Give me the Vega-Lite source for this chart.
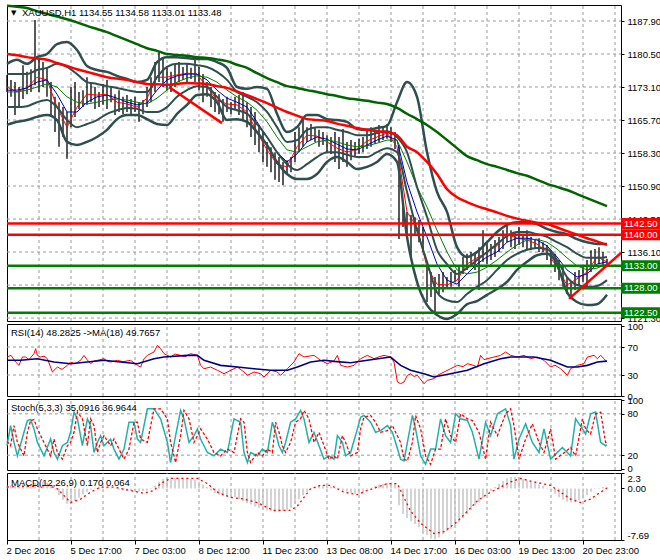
{
"$schema":"https://vega.github.io/schema/vega-lite/v6.json",
"background":"white",
"padding":{"left":1,"top":0,"right":0,"bottom":0},
"spacing":3,
"bounds":"flush",
"config":{"view":{"stroke":"#000","strokeWidth":1},
"axis":{"labelFont":"Liberation Sans","labelFontSize":9.5,"labelColor":"#000","tickColor":"#000","tickSize":3,"domain":false,"labelPadding":3,"labelOverlap":false,"labelBound":false,"grid":false},
"text":{"font":"Liberation Sans","fontSize":9.5}},
"datasets":{
"gx":[{"i":16},{"i":32},{"i":48},{"i":64},{"i":80},{"i":96},{"i":112},{"i":128},{"i":144},{"i":160},{"i":176},{"i":192},{"i":208},{"i":224},{"i":240},{"i":256},{"i":272},{"i":288},{"i":304}],
"gym":[{"v":1187.9},{"v":1180.5},{"v":1173.1},{"v":1165.7},{"v":1158.3},{"v":1150.9},{"v":1143.5},{"v":1136.1},{"v":1128.7},{"v":1121.3}],
"gyr":[{"v":70},{"v":30}],
"gys":[{"v":80},{"v":20}],
"px":[{"i":0,"h":1175.8,"l":1172.0,"m":0.4},{"i":2,"h":1174.7,"l":1170.9,"m":0.5},{"i":4,"h":1174.2,"l":1166.8,"m":0.4},{"i":6,"h":1173.1,"l":1168.6,"m":0.6},{"i":8,"h":1178.0,"l":1170.4,"m":0.7},{"i":10,"h":1176.5,"l":1171.5,"m":0.6},{"i":12,"h":1177.1,"l":1172.0,"m":0.7},{"i":14,"h":1188.1,"l":1173.5,"m":0.9},{"i":16,"h":1179.4,"l":1172.0,"m":0.9},{"i":18,"h":1178.7,"l":1173.1,"m":1.0},{"i":20,"h":1177.6,"l":1170.9,"m":0.9},{"i":22,"h":1174.2,"l":1166.4,"m":0.6},{"i":24,"h":1170.9,"l":1163.0,"m":-0.2},{"i":26,"h":1169.7,"l":1159.7,"m":-1.0},{"i":28,"h":1168.6,"l":1161.9,"m":-1.7},{"i":30,"h":1167.5,"l":1157.0,"m":-2.3},{"i":32,"h":1173.1,"l":1164.1,"m":-2.2},{"i":34,"h":1174.2,"l":1166.4,"m":-1.9},{"i":36,"h":1172.0,"l":1168.2,"m":-1.4},{"i":38,"h":1172.4,"l":1168.6,"m":-0.9},{"i":40,"h":1175.3,"l":1169.1,"m":-0.5},{"i":42,"h":1174.2,"l":1169.7,"m":-0.2},{"i":44,"h":1173.1,"l":1168.2,"m":0.1},{"i":46,"h":1172.0,"l":1168.6,"m":0.3},{"i":48,"h":1173.8,"l":1169.1,"m":0.3},{"i":50,"h":1174.7,"l":1168.2,"m":0.2},{"i":52,"h":1173.1,"l":1169.7,"m":0.1},{"i":54,"h":1171.5,"l":1166.8,"m":-0.1},{"i":56,"h":1172.4,"l":1167.5,"m":-0.2},{"i":58,"h":1170.9,"l":1167.0,"m":-0.3},{"i":60,"h":1171.3,"l":1167.5,"m":-0.4},{"i":62,"h":1170.4,"l":1166.8,"m":-0.4},{"i":64,"h":1170.9,"l":1167.5,"m":-0.5},{"i":66,"h":1169.7,"l":1165.3,"m":-0.5},{"i":68,"h":1170.2,"l":1167.0,"m":-0.4},{"i":70,"h":1173.1,"l":1168.6,"m":-0.3},{"i":72,"h":1175.3,"l":1169.7,"m":-0.1},{"i":74,"h":1178.7,"l":1172.0,"m":0.4},{"i":76,"h":1180.9,"l":1174.2,"m":1.0},{"i":78,"h":1179.8,"l":1173.1,"m":1.4},{"i":80,"h":1177.6,"l":1172.4,"m":1.6},{"i":82,"h":1176.5,"l":1172.0,"m":1.7},{"i":84,"h":1178.3,"l":1173.1,"m":1.6},{"i":86,"h":1178.7,"l":1174.2,"m":1.6},{"i":88,"h":1177.6,"l":1174.7,"m":1.5},{"i":90,"h":1178.3,"l":1174.2,"m":1.5},{"i":92,"h":1177.4,"l":1174.9,"m":1.4},{"i":94,"h":1179.2,"l":1174.2,"m":1.3},{"i":96,"h":1177.6,"l":1172.4,"m":1.0},{"i":98,"h":1176.0,"l":1169.7,"m":0.6},{"i":100,"h":1174.2,"l":1170.9,"m":0.2},{"i":102,"h":1173.1,"l":1168.6,"m":-0.3},{"i":104,"h":1172.0,"l":1167.5,"m":-0.7},{"i":106,"h":1171.5,"l":1167.0,"m":-0.9},{"i":108,"h":1170.4,"l":1165.3,"m":-1.1},{"i":110,"h":1170.9,"l":1167.5,"m":-1.2},{"i":112,"h":1169.7,"l":1167.0,"m":-1.2},{"i":114,"h":1170.9,"l":1167.9,"m":-1.3},{"i":116,"h":1171.3,"l":1166.8,"m":-1.6},{"i":118,"h":1172.0,"l":1165.7,"m":-1.9},{"i":120,"h":1169.7,"l":1164.1,"m":-2.2},{"i":122,"h":1168.6,"l":1161.9,"m":-2.4},{"i":124,"h":1167.5,"l":1160.1,"m":-2.7},{"i":126,"h":1164.1,"l":1158.5,"m":-2.9},{"i":128,"h":1163.0,"l":1156.3,"m":-3.1},{"i":130,"h":1160.8,"l":1155.2,"m":-3.3},{"i":132,"h":1159.6,"l":1154.0,"m":-3.4},{"i":134,"h":1158.5,"l":1152.3,"m":-3.5},{"i":136,"h":1157.4,"l":1151.8,"m":-3.5},{"i":138,"h":1156.3,"l":1151.1,"m":-3.4},{"i":140,"h":1156.7,"l":1153.6,"m":-3.3},{"i":142,"h":1157.4,"l":1154.0,"m":-2.9},{"i":144,"h":1163.0,"l":1156.3,"m":-2.3},{"i":146,"h":1164.1,"l":1158.5,"m":-1.6},{"i":148,"h":1165.9,"l":1159.7,"m":-1.0},{"i":150,"h":1164.1,"l":1160.8,"m":-0.5},{"i":152,"h":1164.8,"l":1161.2,"m":-0.1},{"i":154,"h":1164.1,"l":1160.8,"m":0.2},{"i":156,"h":1163.5,"l":1159.7,"m":0.4},{"i":158,"h":1163.0,"l":1160.1,"m":0.5},{"i":160,"h":1162.3,"l":1158.5,"m":0.4},{"i":162,"h":1161.9,"l":1158.1,"m":0.3},{"i":164,"h":1163.0,"l":1156.3,"m":0.1},{"i":166,"h":1161.9,"l":1154.7,"m":-0.1},{"i":168,"h":1163.7,"l":1156.3,"m":-0.3},{"i":170,"h":1160.8,"l":1155.2,"m":-0.5},{"i":172,"h":1161.2,"l":1156.7,"m":-0.7},{"i":174,"h":1160.8,"l":1157.4,"m":-0.8},{"i":176,"h":1161.5,"l":1158.1,"m":-0.8},{"i":178,"h":1161.9,"l":1158.5,"m":-0.6},{"i":180,"h":1163.5,"l":1159.2,"m":-0.3},{"i":182,"h":1164.1,"l":1159.7,"m":0.1},{"i":184,"h":1163.0,"l":1160.3,"m":0.4},{"i":186,"h":1164.6,"l":1160.8,"m":0.6},{"i":188,"h":1164.1,"l":1161.2,"m":0.7},{"i":190,"h":1164.8,"l":1161.5,"m":0.8},{"i":192,"h":1164.1,"l":1160.8,"m":0.9},{"i":194,"h":1163.0,"l":1159.2,"m":0.8},{"i":196,"h":1160.1,"l":1139.0,"m":-2.5},{"i":198,"h":1146.2,"l":1141.7,"m":-3.8},{"i":200,"h":1145.1,"l":1139.5,"m":-4.4},{"i":202,"h":1144.4,"l":1134.5,"m":-4.9},{"i":204,"h":1143.9,"l":1140.1,"m":-5.3},{"i":206,"h":1143.3,"l":1138.3,"m":-5.8},{"i":208,"h":1141.7,"l":1136.1,"m":-6.4},{"i":210,"h":1133.2,"l":1124.9,"m":-7.0},{"i":212,"h":1131.6,"l":1126.0,"m":-7.5},{"i":214,"h":1130.5,"l":1122.6,"m":-7.6},{"i":216,"h":1131.2,"l":1126.7,"m":-7.3},{"i":218,"h":1131.6,"l":1127.1,"m":-6.8},{"i":220,"h":1130.5,"l":1127.8,"m":-6.4},{"i":222,"h":1131.6,"l":1128.3,"m":-6.0},{"i":224,"h":1132.1,"l":1129.4,"m":-5.5},{"i":226,"h":1132.8,"l":1128.3,"m":-5.0},{"i":228,"h":1135.0,"l":1131.2,"m":-4.4},{"i":230,"h":1135.7,"l":1132.1,"m":-3.8},{"i":232,"h":1136.1,"l":1132.8,"m":-3.2},{"i":234,"h":1136.1,"l":1132.1,"m":-2.6},{"i":236,"h":1137.2,"l":1127.6,"m":-2.1},{"i":238,"h":1141.0,"l":1133.9,"m":-1.5},{"i":240,"h":1138.3,"l":1133.4,"m":-0.9},{"i":242,"h":1137.9,"l":1134.3,"m":-0.4},{"i":244,"h":1138.8,"l":1135.0,"m":0.2},{"i":246,"h":1139.5,"l":1136.1,"m":0.7},{"i":248,"h":1141.0,"l":1136.8,"m":1.1},{"i":250,"h":1142.4,"l":1138.3,"m":1.5},{"i":252,"h":1141.0,"l":1137.2,"m":1.7},{"i":254,"h":1140.6,"l":1136.8,"m":1.7},{"i":256,"h":1141.7,"l":1137.7,"m":1.6},{"i":258,"h":1140.1,"l":1137.2,"m":1.4},{"i":260,"h":1141.0,"l":1136.5,"m":1.2},{"i":262,"h":1139.5,"l":1136.5,"m":1.0},{"i":264,"h":1139.0,"l":1136.8,"m":0.8},{"i":266,"h":1139.2,"l":1136.1,"m":0.6},{"i":268,"h":1138.3,"l":1136.1,"m":0.4},{"i":270,"h":1137.7,"l":1134.3,"m":0.1},{"i":272,"h":1136.5,"l":1132.8,"m":-0.3},{"i":274,"h":1135.7,"l":1131.6,"m":-0.8},{"i":276,"h":1134.3,"l":1129.8,"m":-1.3},{"i":278,"h":1132.8,"l":1128.3,"m":-1.7},{"i":280,"h":1130.5,"l":1126.7,"m":-2.0},{"i":282,"h":1129.4,"l":1125.6,"m":-2.1},{"i":284,"h":1131.6,"l":1127.6,"m":-2.0},{"i":286,"h":1132.1,"l":1128.7,"m":-1.8},{"i":288,"h":1132.8,"l":1129.4,"m":-1.5},{"i":290,"h":1134.3,"l":1127.8,"m":-1.0},{"i":292,"h":1136.5,"l":1131.6,"m":-0.5},{"i":294,"h":1136.8,"l":1132.8,"m":-0.1},{"i":296,"h":1137.2,"l":1133.4,"m":0.1},{"i":298,"h":1136.1,"l":1133.2,"m":0.2},{"i":300,"h":1134.58,"l":1133.01,"m":0.17}],
"ind":[{"i":0,"f":1173.1,"b":1172.4,"g":1172.0,"u":1178.3,"l":1164.6,"iu":1176.0,"il":1168.6,"m50":1180.5,"m200":1191.3},{"i":5,"f":1172.0,"b":1172.4,"g":1172.0,"u":1179.2,"l":1165.3,"iu":1176.0,"il":1168.6,"m50":1180.2,"m200":1191.1},{"i":10,"f":1172.9,"b":1172.9,"g":1172.4,"u":1178.3,"l":1165.7,"iu":1176.0,"il":1168.8,"m50":1179.8,"m200":1190.8},{"i":15,"f":1175.3,"b":1174.2,"g":1173.1,"u":1179.8,"l":1166.4,"iu":1176.9,"il":1169.7,"m50":1179.5,"m200":1190.1},{"i":20,"f":1174.7,"b":1174.7,"g":1173.8,"u":1180.5,"l":1166.8,"iu":1177.4,"il":1170.2,"m50":1179.2,"m200":1189.5},{"i":25,"f":1168.6,"b":1171.5,"g":1173.1,"u":1182.7,"l":1165.7,"iu":1178.3,"il":1168.6,"m50":1178.5,"m200":1188.9},{"i":30,"f":1164.1,"b":1167.5,"g":1170.9,"u":1183.2,"l":1160.8,"iu":1177.6,"il":1165.7,"m50":1177.8,"m200":1188.3},{"i":35,"f":1168.6,"b":1167.5,"g":1169.7,"u":1181.4,"l":1160.1,"iu":1176.0,"il":1164.1,"m50":1177.1,"m200":1187.6},{"i":40,"f":1171.5,"b":1169.7,"g":1169.3,"u":1177.8,"l":1160.8,"iu":1174.2,"il":1164.8,"m50":1176.5,"m200":1186.8},{"i":45,"f":1171.3,"b":1170.9,"g":1169.7,"u":1176.9,"l":1161.9,"iu":1173.8,"il":1165.7,"m50":1175.9,"m200":1186.1},{"i":50,"f":1171.5,"b":1171.3,"g":1170.2,"u":1176.5,"l":1163.5,"iu":1173.3,"il":1167.1,"m50":1175.3,"m200":1185.4},{"i":55,"f":1169.7,"b":1170.6,"g":1170.4,"u":1175.6,"l":1165.9,"iu":1172.9,"il":1167.9,"m50":1175.0,"m200":1184.5},{"i":60,"f":1169.3,"b":1169.7,"g":1170.2,"u":1174.9,"l":1166.8,"iu":1172.4,"il":1168.4,"m50":1174.7,"m200":1183.6},{"i":65,"f":1168.6,"b":1169.1,"g":1169.7,"u":1174.2,"l":1166.8,"iu":1172.0,"il":1168.2,"m50":1174.2,"m200":1182.7},{"i":70,"f":1170.6,"b":1169.5,"g":1169.3,"u":1174.7,"l":1165.9,"iu":1172.0,"il":1167.5,"m50":1173.8,"m200":1181.8},{"i":75,"f":1175.3,"b":1172.4,"g":1170.6,"u":1178.7,"l":1164.8,"iu":1175.3,"il":1167.5,"m50":1173.7,"m200":1181.2},{"i":80,"f":1175.3,"b":1174.7,"g":1172.4,"u":1179.8,"l":1164.6,"iu":1177.6,"il":1168.6,"m50":1173.6,"m200":1180.5},{"i":85,"f":1175.8,"b":1175.6,"g":1174.2,"u":1179.8,"l":1167.1,"iu":1178.3,"il":1170.9,"m50":1173.8,"m200":1180.3},{"i":90,"f":1176.2,"b":1176.0,"g":1175.1,"u":1179.6,"l":1169.1,"iu":1178.3,"il":1172.4,"m50":1174.0,"m200":1180.1},{"i":95,"f":1176.0,"b":1176.0,"g":1175.6,"u":1179.4,"l":1171.3,"iu":1178.0,"il":1173.3,"m50":1173.9,"m200":1179.8},{"i":100,"f":1173.1,"b":1174.7,"g":1175.3,"u":1179.4,"l":1171.5,"iu":1177.6,"il":1173.1,"m50":1173.8,"m200":1179.6},{"i":105,"f":1170.2,"b":1172.4,"g":1174.2,"u":1178.7,"l":1169.7,"iu":1176.5,"il":1170.9,"m50":1173.3,"m200":1179.3},{"i":110,"f":1169.3,"b":1170.6,"g":1172.4,"u":1177.4,"l":1165.7,"iu":1174.7,"il":1168.6,"m50":1172.9,"m200":1178.9},{"i":115,"f":1169.1,"b":1169.7,"g":1170.9,"u":1173.1,"l":1165.9,"iu":1172.0,"il":1167.9,"m50":1172.1,"m200":1178.1},{"i":120,"f":1167.5,"b":1168.6,"g":1169.7,"u":1172.7,"l":1165.3,"iu":1170.9,"il":1167.1,"m50":1171.3,"m200":1177.4},{"i":125,"f":1163.0,"b":1165.3,"g":1167.9,"u":1173.1,"l":1163.0,"iu":1169.7,"il":1164.8,"m50":1170.4,"m200":1176.2},{"i":130,"f":1159.0,"b":1161.9,"g":1165.3,"u":1172.7,"l":1160.1,"iu":1167.5,"il":1161.9,"m50":1169.5,"m200":1175.1},{"i":135,"f":1155.8,"b":1158.5,"g":1161.9,"u":1167.1,"l":1156.3,"iu":1164.1,"il":1158.5,"m50":1168.5,"m200":1174.2},{"i":140,"f":1155.2,"b":1156.3,"g":1159.0,"u":1163.0,"l":1153.6,"iu":1160.8,"il":1155.8,"m50":1167.5,"m200":1173.3},{"i":145,"f":1159.7,"b":1158.1,"g":1158.5,"u":1164.1,"l":1152.5,"iu":1161.2,"il":1154.5,"m50":1166.7,"m200":1172.9},{"i":150,"f":1162.3,"b":1160.8,"g":1159.7,"u":1166.8,"l":1152.5,"iu":1163.5,"il":1155.8,"m50":1165.9,"m200":1172.4},{"i":155,"f":1162.1,"b":1161.9,"g":1160.8,"u":1166.8,"l":1153.6,"iu":1164.1,"il":1157.4,"m50":1165.7,"m200":1172.0},{"i":160,"f":1160.8,"b":1161.4,"g":1161.2,"u":1165.9,"l":1156.3,"iu":1164.1,"il":1158.5,"m50":1165.5,"m200":1171.5},{"i":165,"f":1159.4,"b":1160.3,"g":1160.8,"u":1165.7,"l":1157.4,"iu":1163.5,"il":1158.5,"m50":1164.9,"m200":1171.1},{"i":170,"f":1158.5,"b":1159.2,"g":1160.1,"u":1165.3,"l":1156.3,"iu":1163.0,"il":1157.9,"m50":1164.4,"m200":1170.6},{"i":175,"f":1159.2,"b":1159.0,"g":1159.7,"u":1163.7,"l":1154.7,"iu":1162.3,"il":1157.4,"m50":1163.9,"m200":1170.3},{"i":180,"f":1161.0,"b":1160.1,"g":1159.9,"u":1163.5,"l":1155.2,"iu":1162.3,"il":1157.4,"m50":1163.5,"m200":1170.0},{"i":185,"f":1161.9,"b":1161.2,"g":1160.5,"u":1163.9,"l":1156.3,"iu":1162.8,"il":1158.5,"m50":1163.2,"m200":1169.6},{"i":190,"f":1162.8,"b":1162.1,"g":1161.2,"u":1164.4,"l":1158.1,"iu":1163.2,"il":1159.4,"m50":1163.0,"m200":1169.3},{"i":195,"f":1159.7,"b":1161.2,"g":1161.2,"u":1169.7,"l":1156.3,"iu":1161.9,"il":1158.5,"m50":1162.3,"m200":1168.4},{"i":200,"f":1145.1,"b":1151.8,"g":1156.3,"u":1174.2,"l":1139.5,"iu":1158.5,"il":1149.6,"m50":1159.7,"m200":1167.1},{"i":205,"f":1141.7,"b":1145.1,"g":1150.7,"u":1170.9,"l":1129.4,"iu":1150.7,"il":1141.0,"m50":1158.5,"m200":1165.9},{"i":210,"f":1132.7,"b":1139.5,"g":1146.2,"u":1158.5,"l":1124.2,"iu":1144.0,"il":1133.9,"m50":1156.3,"m200":1164.6},{"i":215,"f":1128.9,"b":1133.4,"g":1141.0,"u":1149.6,"l":1122.0,"iu":1136.6,"il":1127.1,"m50":1153.6,"m200":1163.0},{"i":220,"f":1128.7,"b":1129.8,"g":1136.1,"u":1145.1,"l":1121.1,"iu":1133.4,"il":1125.3,"m50":1150.2,"m200":1161.2},{"i":225,"f":1129.8,"b":1128.9,"g":1132.1,"u":1137.2,"l":1122.2,"iu":1131.2,"il":1124.9,"m50":1148.4,"m200":1159.4},{"i":230,"f":1133.4,"b":1131.2,"g":1131.2,"u":1135.0,"l":1124.4,"iu":1132.5,"il":1126.7,"m50":1147.3,"m200":1157.6},{"i":235,"f":1134.8,"b":1133.4,"g":1131.6,"u":1136.1,"l":1125.1,"iu":1134.3,"il":1128.3,"m50":1146.4,"m200":1156.7},{"i":240,"f":1136.1,"b":1135.0,"g":1132.7,"u":1138.3,"l":1126.5,"iu":1136.1,"il":1129.8,"m50":1145.7,"m200":1155.8},{"i":245,"f":1137.5,"b":1136.1,"g":1134.3,"u":1140.6,"l":1127.8,"iu":1137.9,"il":1132.1,"m50":1145.0,"m200":1155.2},{"i":250,"f":1140.1,"b":1138.3,"g":1136.1,"u":1142.2,"l":1129.4,"iu":1139.7,"il":1134.3,"m50":1144.2,"m200":1154.5},{"i":255,"f":1139.2,"b":1139.2,"g":1137.7,"u":1142.8,"l":1132.1,"iu":1140.6,"il":1135.7,"m50":1143.6,"m200":1153.8},{"i":260,"f":1138.8,"b":1139.2,"g":1138.8,"u":1142.8,"l":1133.9,"iu":1140.6,"il":1136.6,"m50":1143.1,"m200":1153.2},{"i":265,"f":1137.9,"b":1138.8,"g":1139.0,"u":1142.4,"l":1135.4,"iu":1140.1,"il":1137.0,"m50":1142.7,"m200":1152.3},{"i":270,"f":1136.1,"b":1137.5,"g":1138.3,"u":1141.3,"l":1135.7,"iu":1139.5,"il":1136.8,"m50":1142.4,"m200":1151.4},{"i":275,"f":1132.7,"b":1135.0,"g":1136.8,"u":1140.6,"l":1133.4,"iu":1138.3,"il":1134.3,"m50":1141.6,"m200":1150.7},{"i":280,"f":1128.7,"b":1132.1,"g":1134.8,"u":1140.1,"l":1127.1,"iu":1137.2,"il":1130.5,"m50":1140.8,"m200":1150.0},{"i":285,"f":1130.1,"b":1130.5,"g":1133.0,"u":1139.0,"l":1124.9,"iu":1135.7,"il":1128.7,"m50":1140.0,"m200":1149.1},{"i":290,"f":1131.6,"b":1131.2,"g":1132.1,"u":1138.3,"l":1124.2,"iu":1134.8,"il":1128.3,"m50":1139.2,"m200":1148.2},{"i":295,"f":1135.0,"b":1133.4,"g":1132.5,"u":1137.9,"l":1124.4,"iu":1134.8,"il":1128.5,"m50":1138.5,"m200":1147.3},{"i":300,"f":1133.9,"b":1133.9,"g":1133.4,"u":1137.9,"l":1126.5,"iu":1135.0,"il":1129.8,"m50":1137.7,"m200":1146.4}],
"lv":[{"p":1142.5,"t":"r","lab":"1142.50"},{"p":1140.0,"t":"r","lab":"1140.00"},{"p":1133.0,"t":"s","lab":"1133.00"},{"p":1128.0,"t":"s","lab":"1128.00"},{"p":1122.5,"t":"s","lab":"1122.50"}],
"tl":[{"s":"a","i":81,"p":1173.1},{"s":"a","i":107.5,"p":1165.0},{"s":"b","i":281,"p":1125.6},{"s":"b","i":307,"p":1135.9}],
"rsi":[{"i":0,"v":55.7},{"i":2,"v":58.1},{"i":4.3,"v":48.6},{"i":6,"v":43.8},{"i":7.7,"v":55.7},{"i":9.3,"v":55.7},{"i":11,"v":52},{"i":13.5,"v":60.5},{"i":14.3,"v":67.6},{"i":15.2,"v":58.1},{"i":16.8,"v":55.7},{"i":18.5,"v":57},{"i":20.2,"v":53.3},{"i":22.7,"v":34.3},{"i":25.2,"v":41.4},{"i":27.5,"v":38},{"i":30.2,"v":43.8},{"i":31.8,"v":48.6},{"i":34,"v":46},{"i":36.8,"v":51.0},{"i":38.5,"v":58.1},{"i":40,"v":52},{"i":41.8,"v":46.2},{"i":43.5,"v":50},{"i":45.2,"v":51.0},{"i":48.5,"v":53.3},{"i":50,"v":50},{"i":51.8,"v":48.6},{"i":55.2,"v":51.0},{"i":58,"v":49},{"i":61.8,"v":51.0},{"i":65.2,"v":43.8},{"i":66.8,"v":41.4},{"i":68.5,"v":53.3},{"i":70.2,"v":58.1},{"i":73.5,"v":62.9},{"i":75.2,"v":72.4},{"i":76.8,"v":67.6},{"i":78.5,"v":60.5},{"i":81.8,"v":55.7},{"i":84,"v":60},{"i":86.8,"v":58.1},{"i":89,"v":56},{"i":91.8,"v":60.5},{"i":95.2,"v":58.1},{"i":96.8,"v":43.8},{"i":98.5,"v":39.0},{"i":101.8,"v":41.4},{"i":105.2,"v":36.7},{"i":108.5,"v":31.9},{"i":110.2,"v":34.3},{"i":113.5,"v":39.0},{"i":115.2,"v":41.4},{"i":118.5,"v":34.3},{"i":120.2,"v":29.5},{"i":123.5,"v":34.3},{"i":126.8,"v":31.9},{"i":128.5,"v":27.1},{"i":131.8,"v":36.7},{"i":135.2,"v":34.3},{"i":136.8,"v":29.5},{"i":140.2,"v":39.0},{"i":143.5,"v":48.6},{"i":146,"v":60.5},{"i":148.5,"v":55.7},{"i":151,"v":57},{"i":153.5,"v":58.1},{"i":156.8,"v":51.0},{"i":160.2,"v":46.2},{"i":163.5,"v":50},{"i":165.2,"v":58.1},{"i":166.8,"v":43.8},{"i":170.2,"v":41.4},{"i":173.5,"v":43.8},{"i":176.8,"v":53.3},{"i":180.2,"v":58.1},{"i":183.5,"v":53.3},{"i":186,"v":56},{"i":188.5,"v":58.1},{"i":191.8,"v":55.7},{"i":193.5,"v":48.6},{"i":195.2,"v":20.0},{"i":196.8,"v":17.6},{"i":198.5,"v":20.0},{"i":200.2,"v":29.5},{"i":201.8,"v":31.9},{"i":203.5,"v":28},{"i":205.2,"v":29.5},{"i":208.5,"v":17.6},{"i":210.2,"v":22.4},{"i":213.5,"v":24.8},{"i":215.2,"v":29.5},{"i":218.5,"v":34.3},{"i":221.8,"v":39.0},{"i":225.2,"v":43.8},{"i":228,"v":42},{"i":230.2,"v":46.2},{"i":233,"v":44},{"i":235.2,"v":41.4},{"i":236.8,"v":58.1},{"i":238.5,"v":52},{"i":240.2,"v":53.3},{"i":243.5,"v":55.7},{"i":246.8,"v":58.1},{"i":249.3,"v":62.9},{"i":251.8,"v":58.1},{"i":255.2,"v":55.7},{"i":258.5,"v":58.1},{"i":261.8,"v":53.3},{"i":265.2,"v":55.7},{"i":268.5,"v":51.0},{"i":271.8,"v":41.4},{"i":274,"v":44},{"i":276.8,"v":39.0},{"i":280.2,"v":29.5},{"i":281.8,"v":39.0},{"i":285.2,"v":43.8},{"i":288.5,"v":46.2},{"i":290.2,"v":55.7},{"i":293.5,"v":58.1},{"i":295.2,"v":53.3},{"i":296.8,"v":58.1},{"i":298.5,"v":53.3},{"i":300,"v":48.3}],
"rsima":[{"i":0,"v":51.0},{"i":6.8,"v":51.0},{"i":15.2,"v":53.3},{"i":23.5,"v":48.6},{"i":31.8,"v":46.2},{"i":48.5,"v":51.0},{"i":56.8,"v":48.6},{"i":65.2,"v":46.2},{"i":73.5,"v":53.3},{"i":78.5,"v":55.7},{"i":90.2,"v":58.1},{"i":95.2,"v":58.1},{"i":98.5,"v":51.0},{"i":106.8,"v":43.8},{"i":115.2,"v":41.4},{"i":123.5,"v":39.0},{"i":131.8,"v":36.7},{"i":140.2,"v":36.7},{"i":145.2,"v":41.4},{"i":151.8,"v":48.6},{"i":158.5,"v":51.0},{"i":163.5,"v":49.5},{"i":171.8,"v":47.6},{"i":180.2,"v":51.0},{"i":191.8,"v":55.7},{"i":196.8,"v":43.8},{"i":201.8,"v":36.7},{"i":208.5,"v":31.9},{"i":213.5,"v":27.1},{"i":221.8,"v":31.9},{"i":230.2,"v":36.7},{"i":238.5,"v":46.2},{"i":246.8,"v":53.3},{"i":251.8,"v":55.7},{"i":263.5,"v":55.7},{"i":271.8,"v":51.0},{"i":280.2,"v":41.4},{"i":285.2,"v":41.4},{"i":290.2,"v":43.8},{"i":295.2,"v":48.6},{"i":300,"v":49.8}],
"st":[{"i":0,"k":33.7,"d":40},{"i":1.8,"k":62.9,"d":33.7},{"i":3.5,"k":38.5,"d":62.9},{"i":5.2,"k":19.0,"d":38.5},{"i":8.5,"k":53.2,"d":19.0},{"i":10.2,"k":70.3,"d":53.2},{"i":11.8,"k":71.7,"d":70.3},{"i":13.5,"k":58.1,"d":71.7},{"i":15.2,"k":38.5,"d":58.1},{"i":18.5,"k":19.0,"d":38.5},{"i":21.8,"k":43.4,"d":19.0},{"i":23.5,"k":23.9,"d":43.4},{"i":25.2,"k":14.2,"d":23.9},{"i":27.7,"k":33.7,"d":14.2},{"i":30.2,"k":38.5,"d":33.7},{"i":31.8,"k":53.2,"d":38.5},{"i":33.5,"k":82.5,"d":53.2},{"i":35.2,"k":72.7,"d":82.5},{"i":37.7,"k":33.7,"d":72.7},{"i":40.2,"k":72.7,"d":33.7},{"i":41.8,"k":62.9,"d":72.7},{"i":43.5,"k":23.9,"d":62.9},{"i":45.2,"k":38.5,"d":23.9},{"i":46.8,"k":48.3,"d":38.5},{"i":48.5,"k":33.7,"d":48.3},{"i":51.8,"k":43.4,"d":33.7},{"i":53.5,"k":28.8,"d":43.4},{"i":56,"k":14.2,"d":28.8},{"i":58.5,"k":28.8,"d":14.2},{"i":61,"k":67.8,"d":28.8},{"i":63.5,"k":67.8,"d":67.8},{"i":65.2,"k":43.4,"d":67.8},{"i":66.8,"k":38.5,"d":43.4},{"i":70.2,"k":87.3,"d":38.5},{"i":73.5,"k":87.3,"d":87.3},{"i":76.8,"k":72.7,"d":87.3},{"i":80.2,"k":38.5,"d":72.7},{"i":81.8,"k":9.3,"d":38.5},{"i":84.3,"k":48.3,"d":9.3},{"i":86.8,"k":84.9,"d":48.3},{"i":88.5,"k":72.7,"d":84.9},{"i":91,"k":38.5,"d":72.7},{"i":93.5,"k":48.3,"d":38.5},{"i":95.2,"k":58.1,"d":48.3},{"i":96.8,"k":43.4,"d":58.1},{"i":100.2,"k":23.9,"d":43.4},{"i":103.5,"k":19.0,"d":23.9},{"i":106.8,"k":28.8,"d":19.0},{"i":110.2,"k":23.9,"d":28.8},{"i":113.5,"k":72.7,"d":23.9},{"i":116.8,"k":67.8,"d":72.7},{"i":118.5,"k":23.9,"d":67.8},{"i":120.2,"k":9.3,"d":23.9},{"i":121.8,"k":23.9,"d":9.3},{"i":125.2,"k":19.0,"d":23.9},{"i":127.7,"k":28.8,"d":19.0},{"i":130.2,"k":23.9,"d":28.8},{"i":132.7,"k":67.8,"d":23.9},{"i":134.3,"k":53.2,"d":67.8},{"i":136,"k":33.7,"d":53.2},{"i":137.7,"k":23.9,"d":33.7},{"i":139.3,"k":38.5,"d":23.9},{"i":141.8,"k":67.8,"d":38.5},{"i":144.3,"k":72.7,"d":67.8},{"i":146.8,"k":84.9,"d":72.7},{"i":148.5,"k":72.7,"d":84.9},{"i":151,"k":38.5,"d":72.7},{"i":153.5,"k":53.2,"d":38.5},{"i":156,"k":33.7,"d":53.2},{"i":158.5,"k":14.2,"d":33.7},{"i":161,"k":19.0,"d":14.2},{"i":163.5,"k":14.2,"d":19.0},{"i":165.2,"k":48.3,"d":14.2},{"i":167.7,"k":38.5,"d":48.3},{"i":169.3,"k":19.0,"d":38.5},{"i":171.8,"k":23.9,"d":19.0},{"i":175.2,"k":58.1,"d":23.9},{"i":176.8,"k":75.1,"d":58.1},{"i":178.5,"k":77.6,"d":75.1},{"i":181.8,"k":67.8,"d":77.6},{"i":184.3,"k":53.2,"d":67.8},{"i":186.8,"k":55.6,"d":53.2},{"i":190.2,"k":62.9,"d":55.6},{"i":192.7,"k":53.2,"d":62.9},{"i":194.3,"k":38.5,"d":53.2},{"i":196.8,"k":14.2,"d":38.5},{"i":198.5,"k":11.7,"d":14.2},{"i":200.2,"k":38.5,"d":11.7},{"i":202.7,"k":77.6,"d":38.5},{"i":204.3,"k":58.1,"d":77.6},{"i":206.8,"k":19.0,"d":58.1},{"i":209.3,"k":6.8,"d":19.0},{"i":211.8,"k":28.8,"d":6.8},{"i":214.3,"k":28.8,"d":28.8},{"i":216.8,"k":72.7,"d":28.8},{"i":219.3,"k":48.3,"d":72.7},{"i":221.8,"k":38.5,"d":48.3},{"i":224.3,"k":80.0,"d":38.5},{"i":226.8,"k":72.7,"d":80.0},{"i":230.2,"k":70.3,"d":72.7},{"i":232.7,"k":53.2,"d":70.3},{"i":236,"k":14.2,"d":53.2},{"i":239.3,"k":67.8,"d":14.2},{"i":241.8,"k":48.3,"d":67.8},{"i":245.2,"k":80.0,"d":48.3},{"i":249.3,"k":87.3,"d":80.0},{"i":251.8,"k":62.9,"d":87.3},{"i":253.5,"k":14.2,"d":62.9},{"i":256,"k":43.4,"d":14.2},{"i":259.3,"k":65.4,"d":43.4},{"i":262.7,"k":38.5,"d":65.4},{"i":266,"k":23.9,"d":38.5},{"i":268.5,"k":58.1,"d":23.9},{"i":271.8,"k":14.2,"d":58.1},{"i":274.3,"k":21.5,"d":14.2},{"i":277.7,"k":31.2,"d":21.5},{"i":281.8,"k":19.0,"d":31.2},{"i":284.3,"k":72.7,"d":19.0},{"i":287.7,"k":58.1,"d":72.7},{"i":289.3,"k":50.7,"d":58.1},{"i":291.8,"k":80.0,"d":50.7},{"i":294.3,"k":82.5,"d":80.0},{"i":296.8,"k":38.5,"d":82.5},{"i":299.3,"k":33.7,"d":38.5},{"i":300,"k":35.1,"d":37.0}],
"sig":[{"i":0,"s":0.2},{"i":6.8,"s":0.31},{"i":15.2,"s":0.31},{"i":20.2,"s":0.46},{"i":25.2,"s":-0.05},{"i":30.2,"s":-1.59},{"i":31.8,"s":-2.1},{"i":36.8,"s":-1.59},{"i":41.8,"s":-0.56},{"i":46.8,"s":0.2},{"i":53.5,"s":0.2},{"i":61.8,"s":-0.31},{"i":68.5,"s":-0.72},{"i":73.5,"s":-0.31},{"i":76.8,"s":0.72},{"i":81.8,"s":1.49},{"i":95.2,"s":1.49},{"i":100.2,"s":0.72},{"i":105.2,"s":-0.56},{"i":111.8,"s":-1.33},{"i":118.5,"s":-1.59},{"i":125.2,"s":-2.1},{"i":130.2,"s":-2.87},{"i":133.5,"s":-3.28},{"i":141.8,"s":-3.28},{"i":145.2,"s":-2.62},{"i":148.5,"s":-1.33},{"i":151.8,"s":-0.05},{"i":156.8,"s":0.46},{"i":161.8,"s":0.46},{"i":168.5,"s":-0.56},{"i":175.2,"s":-0.92},{"i":180.2,"s":-0.31},{"i":185.2,"s":0.2},{"i":190.2,"s":0.72},{"i":195.2,"s":0.72},{"i":196.8,"s":-0.31},{"i":201.8,"s":-3.38},{"i":206.8,"s":-5.18},{"i":213.5,"s":-6.72},{"i":218.5,"s":-6.46},{"i":225.2,"s":-4.92},{"i":230.2,"s":-3.38},{"i":235.2,"s":-1.85},{"i":240.2,"s":-0.82},{"i":246.8,"s":0.2},{"i":251.8,"s":0.97},{"i":256.8,"s":1.49},{"i":263.5,"s":0.97},{"i":271.8,"s":0.46},{"i":276.8,"s":-0.56},{"i":281.8,"s":-1.59},{"i":286.8,"s":-2.1},{"i":291.8,"s":-1.59},{"i":296.8,"s":-0.56},{"i":300,"s":0.06}]
},
"vconcat":[
{"width":614,"height":316,
"layer":[
{"data":{"name":"gx"},"mark":{"type":"rule","color":"#9A9A9A","strokeWidth":1,"strokeDash":[3,3],"opacity":1},"encoding":{"x":{"field":"i","type":"quantitative","scale":{"domain":[0,307],"nice":false,"zero":false},"axis":{"labels":false,"ticks":false,"grid":false,"title":null}},"y":{"datum":1120.64,"type":"quantitative","scale":{"domain":[1120.64,1191.49],"nice":false,"zero":false},"axis":{"orient":"right","values":[1187.9,1180.5,1173.1,1165.7,1158.3,1150.9,1143.5,1136.1,1128.7,1121.3],"format":".2f","grid":false,"labelOverlap":false,"title":null}},"y2":{"datum":1191.49}}},
{"data":{"name":"gym"},"mark":{"type":"rule","color":"#9A9A9A","strokeWidth":1,"strokeDash":[3,3],"opacity":1},"encoding":{"x":{"datum":0,"type":"quantitative","scale":{"domain":[0,307],"nice":false,"zero":false},"axis":{"labels":false,"ticks":false,"grid":false,"title":null}},"x2":{"datum":307},"y":{"field":"v","type":"quantitative","scale":{"domain":[1120.64,1191.49],"nice":false,"zero":false},"axis":{"orient":"right","values":[1187.9,1180.5,1173.1,1165.7,1158.3,1150.9,1143.5,1136.1,1128.7,1121.3],"format":".2f","grid":false,"labelOverlap":false,"title":null}}}},
{"data":{"name":"px"},"mark":{"type":"rule","color":"#000","strokeWidth":1.3},"encoding":{"x":{"field":"i","type":"quantitative","scale":{"domain":[0,307],"nice":false,"zero":false},"axis":{"labels":false,"ticks":false,"grid":false,"title":null}},"y":{"field":"h","type":"quantitative","scale":{"domain":[1120.64,1191.49],"nice":false,"zero":false},"axis":{"orient":"right","values":[1187.9,1180.5,1173.1,1165.7,1158.3,1150.9,1143.5,1136.1,1128.7,1121.3],"format":".2f","grid":false,"labelOverlap":false,"title":null}},"y2":{"field":"l"}}},
{"data":{"name":"ind"},"mark":{"type":"line","color":"#FF0000","strokeWidth":1},"encoding":{"x":{"field":"i","type":"quantitative","scale":{"domain":[0,307],"nice":false,"zero":false},"axis":{"labels":false,"ticks":false,"grid":false,"title":null}},"y":{"field":"f","type":"quantitative","scale":{"domain":[1120.64,1191.49],"nice":false,"zero":false},"axis":{"orient":"right","values":[1187.9,1180.5,1173.1,1165.7,1158.3,1150.9,1143.5,1136.1,1128.7,1121.3],"format":".2f","grid":false,"labelOverlap":false,"title":null}}}},
{"data":{"name":"ind"},"mark":{"type":"line","color":"#0000C0","strokeWidth":1},"encoding":{"x":{"field":"i","type":"quantitative","scale":{"domain":[0,307],"nice":false,"zero":false},"axis":{"labels":false,"ticks":false,"grid":false,"title":null}},"y":{"field":"b","type":"quantitative","scale":{"domain":[1120.64,1191.49],"nice":false,"zero":false},"axis":{"orient":"right","values":[1187.9,1180.5,1173.1,1165.7,1158.3,1150.9,1143.5,1136.1,1128.7,1121.3],"format":".2f","grid":false,"labelOverlap":false,"title":null}}}},
{"data":{"name":"ind"},"mark":{"type":"line","color":"#008000","strokeWidth":1},"encoding":{"x":{"field":"i","type":"quantitative","scale":{"domain":[0,307],"nice":false,"zero":false},"axis":{"labels":false,"ticks":false,"grid":false,"title":null}},"y":{"field":"g","type":"quantitative","scale":{"domain":[1120.64,1191.49],"nice":false,"zero":false},"axis":{"orient":"right","values":[1187.9,1180.5,1173.1,1165.7,1158.3,1150.9,1143.5,1136.1,1128.7,1121.3],"format":".2f","grid":false,"labelOverlap":false,"title":null}}}},
{"data":{"name":"ind"},"mark":{"type":"line","color":"#2F4F4F","strokeWidth":2,"interpolate":"monotone"},"encoding":{"x":{"field":"i","type":"quantitative","scale":{"domain":[0,307],"nice":false,"zero":false},"axis":{"labels":false,"ticks":false,"grid":false,"title":null}},"y":{"field":"iu","type":"quantitative","scale":{"domain":[1120.64,1191.49],"nice":false,"zero":false},"axis":{"orient":"right","values":[1187.9,1180.5,1173.1,1165.7,1158.3,1150.9,1143.5,1136.1,1128.7,1121.3],"format":".2f","grid":false,"labelOverlap":false,"title":null}}}},
{"data":{"name":"ind"},"mark":{"type":"line","color":"#2F4F4F","strokeWidth":2,"interpolate":"monotone"},"encoding":{"x":{"field":"i","type":"quantitative","scale":{"domain":[0,307],"nice":false,"zero":false},"axis":{"labels":false,"ticks":false,"grid":false,"title":null}},"y":{"field":"il","type":"quantitative","scale":{"domain":[1120.64,1191.49],"nice":false,"zero":false},"axis":{"orient":"right","values":[1187.9,1180.5,1173.1,1165.7,1158.3,1150.9,1143.5,1136.1,1128.7,1121.3],"format":".2f","grid":false,"labelOverlap":false,"title":null}}}},
{"data":{"name":"ind"},"mark":{"type":"line","color":"#2F4F4F","strokeWidth":2.5,"interpolate":"monotone"},"encoding":{"x":{"field":"i","type":"quantitative","scale":{"domain":[0,307],"nice":false,"zero":false},"axis":{"labels":false,"ticks":false,"grid":false,"title":null}},"y":{"field":"u","type":"quantitative","scale":{"domain":[1120.64,1191.49],"nice":false,"zero":false},"axis":{"orient":"right","values":[1187.9,1180.5,1173.1,1165.7,1158.3,1150.9,1143.5,1136.1,1128.7,1121.3],"format":".2f","grid":false,"labelOverlap":false,"title":null}}}},
{"data":{"name":"ind"},"mark":{"type":"line","color":"#2F4F4F","strokeWidth":2.5,"interpolate":"monotone"},"encoding":{"x":{"field":"i","type":"quantitative","scale":{"domain":[0,307],"nice":false,"zero":false},"axis":{"labels":false,"ticks":false,"grid":false,"title":null}},"y":{"field":"l","type":"quantitative","scale":{"domain":[1120.64,1191.49],"nice":false,"zero":false},"axis":{"orient":"right","values":[1187.9,1180.5,1173.1,1165.7,1158.3,1150.9,1143.5,1136.1,1128.7,1121.3],"format":".2f","grid":false,"labelOverlap":false,"title":null}}}},
{"data":{"name":"ind"},"mark":{"type":"line","color":"#FF0000","strokeWidth":2.5,"interpolate":"monotone"},"encoding":{"x":{"field":"i","type":"quantitative","scale":{"domain":[0,307],"nice":false,"zero":false},"axis":{"labels":false,"ticks":false,"grid":false,"title":null}},"y":{"field":"m50","type":"quantitative","scale":{"domain":[1120.64,1191.49],"nice":false,"zero":false},"axis":{"orient":"right","values":[1187.9,1180.5,1173.1,1165.7,1158.3,1150.9,1143.5,1136.1,1128.7,1121.3],"format":".2f","grid":false,"labelOverlap":false,"title":null}}}},
{"data":{"name":"ind"},"mark":{"type":"line","color":"#006400","strokeWidth":2.5,"interpolate":"monotone"},"encoding":{"x":{"field":"i","type":"quantitative","scale":{"domain":[0,307],"nice":false,"zero":false},"axis":{"labels":false,"ticks":false,"grid":false,"title":null}},"y":{"field":"m200","type":"quantitative","scale":{"domain":[1120.64,1191.49],"nice":false,"zero":false},"axis":{"orient":"right","values":[1187.9,1180.5,1173.1,1165.7,1158.3,1150.9,1143.5,1136.1,1128.7,1121.3],"format":".2f","grid":false,"labelOverlap":false,"title":null}}}},
{"data":{"name":"lv"},"mark":{"type":"rule","strokeWidth":2.5},"encoding":{"x":{"datum":0,"type":"quantitative","scale":{"domain":[0,307],"nice":false,"zero":false},"axis":{"labels":false,"ticks":false,"grid":false,"title":null}},"x2":{"datum":307},"y":{"field":"p","type":"quantitative","scale":{"domain":[1120.64,1191.49],"nice":false,"zero":false},"axis":{"orient":"right","values":[1187.9,1180.5,1173.1,1165.7,1158.3,1150.9,1143.5,1136.1,1128.7,1121.3],"format":".2f","grid":false,"labelOverlap":false,"title":null}},"color":{"field":"t","type":"nominal","scale":{"domain":["r","s"],"range":["#FF0000","#008000"]},"legend":null}}},
{"data":{"name":"tl"},"mark":{"type":"line","color":"#FF0000","strokeWidth":2.5},"encoding":{"x":{"field":"i","type":"quantitative","scale":{"domain":[0,307],"nice":false,"zero":false},"axis":{"labels":false,"ticks":false,"grid":false,"title":null}},"detail":{"field":"s","type":"nominal"},"y":{"field":"p","type":"quantitative","scale":{"domain":[1120.64,1191.49],"nice":false,"zero":false},"axis":{"orient":"right","values":[1187.9,1180.5,1173.1,1165.7,1158.3,1150.9,1143.5,1136.1,1128.7,1121.3],"format":".2f","grid":false,"labelOverlap":false,"title":null}}}},
{"data":{"name":"lv"},"mark":{"type":"rule","strokeWidth":11,"strokeCap":"butt"},"encoding":{"x":{"datum":307,"type":"quantitative","scale":{"domain":[0,307],"nice":false,"zero":false},"axis":{"labels":false,"ticks":false,"grid":false,"title":null}},"x2":{"datum":329},"y":{"field":"p","type":"quantitative","scale":{"domain":[1120.64,1191.49],"nice":false,"zero":false},"axis":{"orient":"right","values":[1187.9,1180.5,1173.1,1165.7,1158.3,1150.9,1143.5,1136.1,1128.7,1121.3],"format":".2f","grid":false,"labelOverlap":false,"title":null}},"color":{"field":"t","type":"nominal","scale":{"domain":["r","s"],"range":["#FF0000","#008000"]},"legend":null}}},
{"data":{"name":"lv"},"mark":{"type":"text","color":"white","align":"left","baseline":"middle","fontSize":9.5},"encoding":{"x":{"datum":308.5,"type":"quantitative","scale":{"domain":[0,307],"nice":false,"zero":false},"axis":{"labels":false,"ticks":false,"grid":false,"title":null}},"y":{"field":"p","type":"quantitative","scale":{"domain":[1120.64,1191.49],"nice":false,"zero":false},"axis":{"orient":"right","values":[1187.9,1180.5,1173.1,1165.7,1158.3,1150.9,1143.5,1136.1,1128.7,1121.3],"format":".2f","grid":false,"labelOverlap":false,"title":null}},"text":{"field":"lab","type":"nominal"}}},
{"data":{"values":[{"a":1}]},"mark":{"type":"text","font":"DejaVu Sans","fontSize":7,"align":"left","baseline":"middle","color":"#000","text":"▼"},"encoding":{"x":{"datum":2,"type":"quantitative","scale":{"domain":[0,307],"nice":false,"zero":false},"axis":{"labels":false,"ticks":false,"grid":false,"title":null}},"y":{"datum":1189.8,"type":"quantitative","scale":{"domain":[1120.64,1191.49],"nice":false,"zero":false},"axis":{"orient":"right","values":[1187.9,1180.5,1173.1,1165.7,1158.3,1150.9,1143.5,1136.1,1128.7,1121.3],"format":".2f","grid":false,"labelOverlap":false,"title":null}}}},
{"data":{"values":[{"a":1}]},"mark":{"type":"text","align":"left","baseline":"middle","color":"#000","text":"XAUUSD,H1  1134.55 1134.58 1133.01 1133.48"},"encoding":{"x":{"datum":7.5,"type":"quantitative","scale":{"domain":[0,307],"nice":false,"zero":false},"axis":{"labels":false,"ticks":false,"grid":false,"title":null}},"y":{"datum":1189.8,"type":"quantitative","scale":{"domain":[1120.64,1191.49],"nice":false,"zero":false},"axis":{"orient":"right","values":[1187.9,1180.5,1173.1,1165.7,1158.3,1150.9,1143.5,1136.1,1128.7,1121.3],"format":".2f","grid":false,"labelOverlap":false,"title":null}}}}
]},
{"width":614,"height":72,
"layer":[
{"data":{"name":"gx"},"mark":{"type":"rule","color":"#9A9A9A","strokeWidth":1,"strokeDash":[3,3],"opacity":1},"encoding":{"x":{"field":"i","type":"quantitative","scale":{"domain":[0,307],"nice":false,"zero":false},"axis":{"labels":false,"ticks":false,"grid":false,"title":null}},"y":{"datum":0,"type":"quantitative","scale":{"domain":[0,102.9],"nice":false,"zero":false},"axis":{"orient":"right","values":[100,70,30,0],"grid":false,"labelOverlap":false,"title":null}},"y2":{"datum":102.9}}},
{"data":{"name":"gyr"},"mark":{"type":"rule","color":"#9A9A9A","strokeWidth":1,"strokeDash":[3,3],"opacity":1},"encoding":{"x":{"datum":0,"type":"quantitative","scale":{"domain":[0,307],"nice":false,"zero":false},"axis":{"labels":false,"ticks":false,"grid":false,"title":null}},"x2":{"datum":307},"y":{"field":"v","type":"quantitative","scale":{"domain":[0,102.9],"nice":false,"zero":false},"axis":{"orient":"right","values":[100,70,30,0],"grid":false,"labelOverlap":false,"title":null}}}},
{"data":{"name":"rsi"},"mark":{"type":"line","color":"#FF0000","strokeWidth":1},"encoding":{"x":{"field":"i","type":"quantitative","scale":{"domain":[0,307],"nice":false,"zero":false},"axis":{"labels":false,"ticks":false,"grid":false,"title":null}},"y":{"field":"v","type":"quantitative","scale":{"domain":[0,102.9],"nice":false,"zero":false},"axis":{"orient":"right","values":[100,70,30,0],"grid":false,"labelOverlap":false,"title":null}}}},
{"data":{"name":"rsima"},"mark":{"type":"line","color":"#000080","strokeWidth":1.6},"encoding":{"x":{"field":"i","type":"quantitative","scale":{"domain":[0,307],"nice":false,"zero":false},"axis":{"labels":false,"ticks":false,"grid":false,"title":null}},"y":{"field":"v","type":"quantitative","scale":{"domain":[0,102.9],"nice":false,"zero":false},"axis":{"orient":"right","values":[100,70,30,0],"grid":false,"labelOverlap":false,"title":null}}}},
{"data":{"values":[{"a":1}]},"mark":{"type":"text","align":"left","baseline":"middle","color":"#000","text":"RSI(14) 48.2825  ->MA(18) 49.7657"},"encoding":{"x":{"datum":2,"type":"quantitative","scale":{"domain":[0,307],"nice":false,"zero":false},"axis":{"labels":false,"ticks":false,"grid":false,"title":null}},"y":{"datum":90,"type":"quantitative","scale":{"domain":[0,102.9],"nice":false,"zero":false},"axis":{"orient":"right","values":[100,70,30,0],"grid":false,"labelOverlap":false,"title":null}}}}
]},
{"width":614,"height":71,
"layer":[
{"data":{"name":"gx"},"mark":{"type":"rule","color":"#9A9A9A","strokeWidth":1,"strokeDash":[3,3],"opacity":1},"encoding":{"x":{"field":"i","type":"quantitative","scale":{"domain":[0,307],"nice":false,"zero":false},"axis":{"labels":false,"ticks":false,"grid":false,"title":null}},"y":{"datum":-1.5,"type":"quantitative","scale":{"domain":[-1.5,101.5],"nice":false,"zero":false},"axis":{"orient":"right","values":[100,80,20,0],"grid":false,"labelOverlap":false,"title":null}},"y2":{"datum":101.5}}},
{"data":{"name":"gys"},"mark":{"type":"rule","color":"#9A9A9A","strokeWidth":1,"strokeDash":[3,3],"opacity":1},"encoding":{"x":{"datum":0,"type":"quantitative","scale":{"domain":[0,307],"nice":false,"zero":false},"axis":{"labels":false,"ticks":false,"grid":false,"title":null}},"x2":{"datum":307},"y":{"field":"v","type":"quantitative","scale":{"domain":[-1.5,101.5],"nice":false,"zero":false},"axis":{"orient":"right","values":[100,80,20,0],"grid":false,"labelOverlap":false,"title":null}}}},
{"data":{"name":"st"},"mark":{"type":"line","color":"#20B2AA","strokeWidth":1.5},"encoding":{"x":{"field":"i","type":"quantitative","scale":{"domain":[0,307],"nice":false,"zero":false},"axis":{"labels":false,"ticks":false,"grid":false,"title":null}},"y":{"field":"k","type":"quantitative","scale":{"domain":[-1.5,101.5],"nice":false,"zero":false},"axis":{"orient":"right","values":[100,80,20,0],"grid":false,"labelOverlap":false,"title":null}}}},
{"data":{"name":"st"},"mark":{"type":"line","color":"#FF0000","strokeWidth":1.3,"strokeDash":[3,2]},"encoding":{"x":{"field":"i","type":"quantitative","scale":{"domain":[0,307],"nice":false,"zero":false},"axis":{"labels":false,"ticks":false,"grid":false,"title":null}},"y":{"field":"d","type":"quantitative","scale":{"domain":[-1.5,101.5],"nice":false,"zero":false},"axis":{"orient":"right","values":[100,80,20,0],"grid":false,"labelOverlap":false,"title":null}}}},
{"data":{"values":[{"a":1}]},"mark":{"type":"text","align":"left","baseline":"middle","color":"#000","text":"Stoch(5,3,3) 35.0916 36.9644"},"encoding":{"x":{"datum":2,"type":"quantitative","scale":{"domain":[0,307],"nice":false,"zero":false},"axis":{"labels":false,"ticks":false,"grid":false,"title":null}},"y":{"datum":88.4,"type":"quantitative","scale":{"domain":[-1.5,101.5],"nice":false,"zero":false},"axis":{"orient":"right","values":[100,80,20,0],"grid":false,"labelOverlap":false,"title":null}}}}
]},
{"width":614,"height":67,
"layer":[
{"data":{"name":"gx"},"mark":{"type":"rule","color":"#9A9A9A","strokeWidth":1,"strokeDash":[3,3],"opacity":1},"encoding":{"x":{"field":"i","type":"quantitative","scale":{"domain":[0,307],"nice":false,"zero":false},"axis":{"values":[0,32,64,96,128,160,192,224,256,288],"grid":false,"ticks":true,"tickSize":4,"labelExpr":"['2 Dec 2016','5 Dec 17:00','7 Dec 03:00','8 Dec 12:00','11 Dec 23:00','13 Dec 08:00','14 Dec 17:00','16 Dec 03:00','19 Dec 13:00','20 Dec 23:00'][round(datum.value/32)]","labelAlign":"left","labelOffset":-1,"labelFlush":false,"labelOverlap":false,"labelPadding":1,"title":null}},"y":{"datum":-7.69,"type":"quantitative","scale":{"domain":[-7.69,2.3],"nice":false,"zero":false},"axis":{"orient":"right","values":[2.3,0,-7.69],"labelExpr":"datum.value == 0 ? '0.00' : datum.value > 0 ? '2.3' : '-7.69'","grid":false,"labelFlush":4,"labelOverlap":false,"title":null}},"y2":{"datum":2.3}}},
{"data":{"name":"px"},"mark":{"type":"rule","color":"#C0C0C0","strokeWidth":1.4},"encoding":{"x":{"field":"i","type":"quantitative","scale":{"domain":[0,307],"nice":false,"zero":false},"axis":{"values":[0,32,64,96,128,160,192,224,256,288],"grid":false,"ticks":true,"tickSize":4,"labelExpr":"['2 Dec 2016','5 Dec 17:00','7 Dec 03:00','8 Dec 12:00','11 Dec 23:00','13 Dec 08:00','14 Dec 17:00','16 Dec 03:00','19 Dec 13:00','20 Dec 23:00'][round(datum.value/32)]","labelAlign":"left","labelOffset":-1,"labelFlush":false,"labelOverlap":false,"labelPadding":1,"title":null}},"y":{"field":"m","type":"quantitative","scale":{"domain":[-7.69,2.3],"nice":false,"zero":false},"axis":{"orient":"right","values":[2.3,0,-7.69],"labelExpr":"datum.value == 0 ? '0.00' : datum.value > 0 ? '2.3' : '-7.69'","grid":false,"labelFlush":4,"labelOverlap":false,"title":null}},"y2":{"datum":0}}},
{"data":{"name":"sig"},"mark":{"type":"line","color":"#FF0000","strokeWidth":1.3,"strokeDash":[2,3]},"encoding":{"x":{"field":"i","type":"quantitative","scale":{"domain":[0,307],"nice":false,"zero":false},"axis":{"values":[0,32,64,96,128,160,192,224,256,288],"grid":false,"ticks":true,"tickSize":4,"labelExpr":"['2 Dec 2016','5 Dec 17:00','7 Dec 03:00','8 Dec 12:00','11 Dec 23:00','13 Dec 08:00','14 Dec 17:00','16 Dec 03:00','19 Dec 13:00','20 Dec 23:00'][round(datum.value/32)]","labelAlign":"left","labelOffset":-1,"labelFlush":false,"labelOverlap":false,"labelPadding":1,"title":null}},"y":{"field":"s","type":"quantitative","scale":{"domain":[-7.69,2.3],"nice":false,"zero":false},"axis":{"orient":"right","values":[2.3,0,-7.69],"labelExpr":"datum.value == 0 ? '0.00' : datum.value > 0 ? '2.3' : '-7.69'","grid":false,"labelFlush":4,"labelOverlap":false,"title":null}}}},
{"data":{"values":[{"a":1}]},"mark":{"type":"text","align":"left","baseline":"middle","color":"#000","text":"MACD(12,26,9) 0.170 0.064"},"encoding":{"x":{"datum":2,"type":"quantitative","scale":{"domain":[0,307],"nice":false,"zero":false},"axis":{"values":[0,32,64,96,128,160,192,224,256,288],"grid":false,"ticks":true,"tickSize":4,"labelExpr":"['2 Dec 2016','5 Dec 17:00','7 Dec 03:00','8 Dec 12:00','11 Dec 23:00','13 Dec 08:00','14 Dec 17:00','16 Dec 03:00','19 Dec 13:00','20 Dec 23:00'][round(datum.value/32)]","labelAlign":"left","labelOffset":-1,"labelFlush":false,"labelOverlap":false,"labelPadding":1,"title":null}},"y":{"datum":0.81,"type":"quantitative","scale":{"domain":[-7.69,2.3],"nice":false,"zero":false},"axis":{"orient":"right","values":[2.3,0,-7.69],"labelExpr":"datum.value == 0 ? '0.00' : datum.value > 0 ? '2.3' : '-7.69'","grid":false,"labelFlush":4,"labelOverlap":false,"title":null}}}}
]}
]
}
